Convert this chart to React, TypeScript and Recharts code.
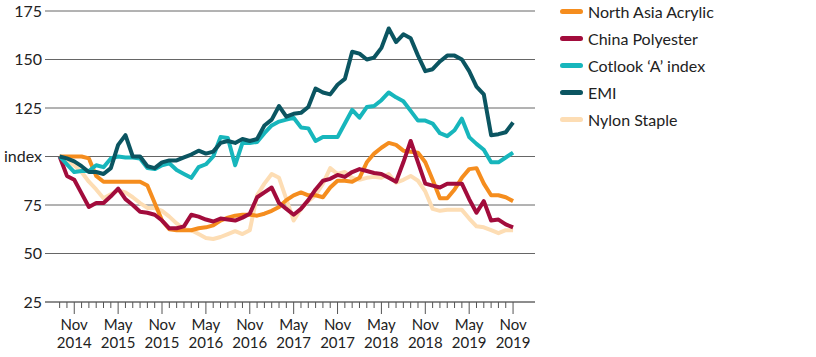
import React from 'react';
import { LineChart, Line, XAxis, YAxis, CartesianGrid } from 'recharts';

const months = [
  'Sep 2014', 'Oct 2014', 'Nov 2014', 'Dec 2014',
  'Jan 2015', 'Feb 2015', 'Mar 2015', 'Apr 2015', 'May 2015', 'Jun 2015',
  'Jul 2015', 'Aug 2015', 'Sep 2015', 'Oct 2015', 'Nov 2015', 'Dec 2015',
  'Jan 2016', 'Feb 2016', 'Mar 2016', 'Apr 2016', 'May 2016', 'Jun 2016',
  'Jul 2016', 'Aug 2016', 'Sep 2016', 'Oct 2016', 'Nov 2016', 'Dec 2016',
  'Jan 2017', 'Feb 2017', 'Mar 2017', 'Apr 2017', 'May 2017', 'Jun 2017',
  'Jul 2017', 'Aug 2017', 'Sep 2017', 'Oct 2017', 'Nov 2017', 'Dec 2017',
  'Jan 2018', 'Feb 2018', 'Mar 2018', 'Apr 2018', 'May 2018', 'Jun 2018',
  'Jul 2018', 'Aug 2018', 'Sep 2018', 'Oct 2018', 'Nov 2018', 'Dec 2018',
  'Jan 2019', 'Feb 2019', 'Mar 2019', 'Apr 2019', 'May 2019', 'Jun 2019',
  'Jul 2019', 'Aug 2019', 'Sep 2019', 'Oct 2019', 'Nov 2019',
];

const northAsiaAcrylic = [
  100, 100, 100, 100, 99, 90, 87, 87, 87, 87,
  87, 87, 85, 76, 67, 62.5, 62, 62, 62, 63,
  63.5, 64.5, 67, 68.5, 69.5, 70, 70, 69.5, 70.5, 72,
  74, 77.5, 80, 81.5, 80, 80, 79, 84, 87.5, 87.5,
  87, 89, 97, 101.5, 104.5, 107, 106, 103, 102.5, 102,
  97, 88, 78.5, 78.5, 83, 89, 93.5, 94, 86, 80,
  80, 79, 77,
];

const chinaPolyester = [
  100, 90, 88, 81, 74, 76, 76, 79.5, 83.5, 78,
  75, 71.5, 71, 70, 67, 63, 63, 64, 70, 69,
  67.5, 66.5, 68, 67.5, 67, 68.5, 70.5, 79, 81.5, 84,
  76, 73, 70, 73, 77.5, 83, 87.5, 88.5, 90.5, 89.5,
  92, 93.5, 92.5, 91.5, 91, 89, 87, 97, 108, 97,
  86, 85, 84, 86, 86, 86, 78, 71, 77, 67,
  67.5, 65, 63.5,
];

const cotlookA = [
  100, 96, 92, 92.5, 92.5, 95.5, 94.5, 99, 100, 99.5,
  99.5, 99, 94, 93.5, 95.5, 96.5, 93, 91, 89, 94.5,
  96, 100, 110, 109.5, 95.5, 107, 107, 107.5, 112, 116,
  118, 119, 120, 115, 114.5, 108, 110, 110, 110, 117,
  124, 120, 125.5, 126, 129, 133, 130.5, 128.5, 123.5, 118.5,
  118.5, 117, 112, 110.5, 113.5, 119.5, 110, 106.5, 103.5, 97,
  97, 99.5, 102,
];

const emi = [
  100, 99, 97.5, 95, 92, 92, 91, 94, 106, 111,
  100, 100, 95, 94, 97, 98, 98, 99.5, 101, 103,
  101.5, 102.5, 107, 108, 107, 109, 108, 109, 116, 119,
  126, 120.5, 122, 122.5, 125.5, 135, 133, 132, 137, 140,
  154, 153, 150, 151, 156, 166, 159, 163, 161, 152,
  144, 145, 149, 152, 152, 150, 144, 136, 132, 111,
  111.5, 112.5, 117.5,
];

const nylonStaple = [
  100, 98, 95.5, 92, 87, 83, 78.5, 80.5, 82.5, 81.5,
  79, 76, 73.5, 73.5, 72, 69, 65.5, 62.5, 62, 60,
  58, 57.5, 58.5, 60, 61.5, 60, 62, 80, 86, 91,
  89, 78, 67, 73, 77, 80, 86, 94, 91, 92,
  89, 88, 89, 89.5, 89, 91, 86.5, 88, 90, 87.5,
  82, 73, 72, 72.5, 72.5, 72.5, 68, 64, 63.5, 62,
  60.5, 62, 62,
];

const yTicks = [25, 50, 75, 100, 125, 150, 175];

const series = [
  { key: 'acrylic', name: 'North Asia Acrylic', color: '#F58D1E' },
  { key: 'polyester', name: 'China Polyester', color: '#A20C3C' },
  { key: 'cotlook', name: 'Cotlook \u2018A\u2019 index', color: '#17B6BC' },
  { key: 'emi', name: 'EMI', color: '#0B5561' },
  { key: 'nylon', name: 'Nylon Staple', color: '#FDDDB4' },
];

// drawing order (bottom to top)
const drawOrder = ['nylon', 'acrylic', 'polyester', 'cotlook', 'emi'];

const data = months.map((m, i) => ({
  i,
  month: m,
  acrylic: northAsiaAcrylic[i],
  polyester: chinaPolyester[i],
  cotlook: cotlookA[i],
  emi: emi[i],
  nylon: nylonStaple[i],
}));

const FONT = 'Lato, "Open Sans", sans-serif';

const MonthTick = (props: any) => {
  const { x, y, payload } = props;
  const label = months[payload.value];
  if (!label) return null;
  const [mon, yr] = label.split(' ');
  const major = mon === 'Nov' || mon === 'May';
  return (
    <g>
      <line x1={x} x2={x} y1={y} y2={y + (major ? 12 : 6)} stroke="#555" strokeWidth={1} />
      {major && (
        <text x={x} y={y + 28} textAnchor="middle" fontSize={15} fill="#222" fontFamily={FONT}>
          <tspan x={x}>{mon}</tspan>
          <tspan x={x} dy={18}>{yr}</tspan>
        </text>
      )}
    </g>
  );
};

const ChartLegend = () => (
  <div
    style={{
      position: 'absolute',
      left: 560,
      top: -2,
      fontFamily: FONT,
      fontSize: 16,
      color: '#222',
    }}
  >
    {series.map((s) => (
      <div key={s.key} style={{ display: 'flex', alignItems: 'center', height: 27 }}>
        <span
          style={{
            display: 'inline-block',
            width: 23,
            height: 5,
            borderRadius: 3,
            background: s.color,
            marginRight: 5,
          }}
        />
        <span>{s.name}</span>
      </div>
    ))}
  </div>
);

const App: React.FC = () => {
  return (
    <div style={{ position: 'relative', width: 816, height: 357 }}>
      <style>{'body { margin: 0; } .recharts-surface { overflow: visible; }'}</style>
      <LineChart
        width={816}
        height={357}
        data={data}
        margin={{ top: 11, right: 281, bottom: 5, left: 0 }}
      >
        <CartesianGrid vertical={false} stroke="#666" />
        <XAxis
          dataKey="i"
          type="number"
          domain={[-2, 65]}
          ticks={data.map((d) => d.i)}
          interval={0}
          tick={<MonthTick />}
          tickLine={false}
          tickSize={0}
          tickMargin={0}
          height={50}
          axisLine={{ stroke: '#666' }}
          allowDataOverflow
        />
        <YAxis
          type="number"
          domain={[25, 175]}
          ticks={yTicks}
          interval={0}
          width={45}
          axisLine={false}
          tickLine={false}
          tickSize={0}
          tickMargin={3}
          tick={{ fontSize: 16, fill: '#222', fontFamily: FONT }}
          tickFormatter={(v: number) => (v === 100 ? 'index' : String(v))}
        />
        {drawOrder.map((k) => {
          const s = series.find((x) => x.key === k)!;
          return (
            <Line
              key={s.key}
              type="linear"
              dataKey={s.key}
              name={s.name}
              stroke={s.color}
              strokeWidth={4}
              strokeLinejoin="round"
              dot={false}
              activeDot={false}
              isAnimationActive={false}
            />
          );
        })}
      </LineChart>
      <ChartLegend />
    </div>
  );
};

export default App;
